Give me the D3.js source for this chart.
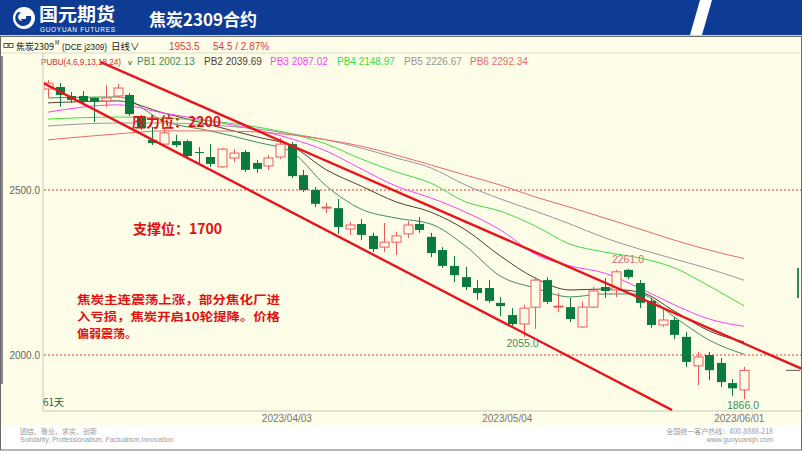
<!DOCTYPE html>
<html><head><meta charset="utf-8">
<script src="https://cdn.jsdelivr.net/npm/d3@7"></script>
<style>body{margin:0;background:#fff;} svg{display:block;}</style>
</head><body>
<svg id="c" width="802" height="451"></svg>
<script>
// ---- data ----
const opens  = [2806,2812,2785,2785,2779,2770,2785,2788,2721,2652, 2639,2648,2648,2615,2600,2570,2597,2615,2582,2573, 2600,2639,2545,2500,2446,2445,2382,2397,2361,2327, 2342,2367,2397,2358,2318,2270,2236,2203,2203,2158, 2121,2094,2145,2227,2147,2145,2085,2145,2206,2197, 2258,2218,2164,2091,2106,2055,1967,2000,1976,1915,1894];
const highs  = [2833,2824,2797,2800,2782,2818,2821,2794,2727,2691, 2688,2667,2652,2630,2639,2627,2624,2621,2591,2606, 2658,2645,2561,2509,2461,2473,2403,2412,2370,2400, 2373,2406,2418,2370,2327,2300,2267,2227,2227,2176, 2142,2152,2236,2236,2188,2173,2161,2206,2233,2258, 2261,2227,2173,2142,2115,2070,2009,2009,1991,1927,1964];
const lows   = [2782,2752,2764,2758,2706,2752,2779,2724,2682,2636, 2633,2630,2597,2582,2570,2567,2585,2555,2552,2561, 2594,2536,2494,2448,2430,2367,2364,2348,2312,2312, 2303,2355,2370,2297,2264,2221,2197,2167,2158,2118, 2088,2055,2079,2155,2130,2100,2082,2142,2173,2176, 2230,2142,2082,2085,2048,1964,1909,1924,1903,1876,1866];
const closes = [2824,2788,2773,2767,2767,2779,2809,2730,2688,2642, 2673,2636,2603,2612,2579,2624,2612,2561,2564,2597, 2639,2542,2500,2458,2448,2388,2394,2364,2321,2342, 2361,2394,2379,2309,2270,2242,2206,2188,2164,2148, 2094,2142,2227,2161,2148,2109,2145,2194,2194,2252, 2236,2158,2091,2106,2061,1979,1994,1954,1918,1899,1953.5];

const maIndex = [0,6,10,14,18,21,24,27,30,33,36,39,42,45,48,51,54,57,60];
const pb1 = [2779,2782,2709,2679,2645,2615,2512,2442,2415,2397,2330,2239,2203,2176,2185,2185,2115,2045,2002.13];
const pb2 = [2764,2770,2733,2697,2661,2633,2561,2512,2464,2433,2379,2300,2233,2197,2200,2191,2133,2073,2039.69];
const pb3 = [2736,2758,2733,2709,2682,2655,2618,2564,2512,2476,2433,2379,2306,2270,2248,2203,2152,2109,2087.02];
const pb4 = [2715,2721,2718,2709,2691,2670,2639,2594,2555,2521,2464,2436,2391,2336,2312,2294,2264,2209,2148.97];
const pb5 = [2694,2703,2703,2697,2685,2670,2652,2627,2597,2567,2515,2473,2436,2397,2355,2321,2291,2261,2226.67];
const pb6 = [2652,2670,2679,2679,2676,2667,2652,2633,2606,2576,2545,2515,2479,2448,2415,2382,2348,2318,2292.34];
const maNames = ["PB1","PB2","PB3","PB4","PB5","PB6"];

const yTickValues = [2000, 2500];
const dateTickIndex = [21, 40, 60];
const dateTickLabels = ["2023/04/03","2023/05/04","2023/06/01"];
// channel lines: [index1, price1, index2, price2]
const channelLines = [[4.5, 2888, 65, 1958], [-0.4, 2824, 53.8, 1833]];
const markIndex = [50, 41, 60];
const markValue = [2261, 2055, 1866];

// ---- styles ----
const cream = "#fdfde8";
const upColor = "#ee5a5a", downColor = "#0b7a3e";
const maColors = ["#3f8f5c","#5a3a30","#ff40ff","#40dc40","#989898","#f06868"];

const svg = d3.select("#c");
const W = 802, H = 451;
const plot = {l:43, r:800, t:53, b:411};

const x = d3.scaleLinear().domain([0, 60]).range([48, 744]);
const y = d3.scaleLinear().domain([2000, 2500]).range([355, 190]);

// backgrounds
svg.append("rect").attr("width", W).attr("height", H).attr("fill", "#fff");
svg.append("rect").attr("x",0).attr("y",36).attr("width",W).attr("height",389).attr("fill",cream);

// header
const blue = "#0e3c94";
svg.append("polygon").attr("points","0,0 700,0 690,35 0,35").attr("fill",blue);
svg.append("polygon").attr("points","712,0 802,0 802,35 702,35").attr("fill",blue);
svg.append("rect").attr("x",0).attr("y",35).attr("width",W).attr("height",2).attr("fill","#cfd3da");
// logo
const lg = svg.append("g");
lg.append("circle").attr("cx",24).attr("cy",18).attr("r",11).attr("fill","#fff");
lg.append("path").attr("d","M18,12 A8,8 0 1 0 31,16 L26,16 A4,4 0 1 1 22,13 Z").attr("fill",blue);
lg.append("path").attr("d","M21,19 L27,19 L24,25 Z").attr("fill",blue);
svg.append("text").attr("x",39).attr("y",21).text("国元期货")
  .attr("font-family","Noto Sans CJK SC").attr("font-weight","bold").attr("font-size",18)
  .attr("textLength",76).attr("lengthAdjust","spacingAndGlyphs").attr("fill","#fff");
svg.append("text").attr("x",40).attr("y",31.5).text("GUOYUAN FUTURES")
  .attr("font-family","Liberation Sans").attr("font-size",6.5).attr("textLength",75).attr("fill","#fff");
svg.append("text").attr("x",149).attr("y",26).text("焦炭2309合约")
  .attr("font-family","Noto Sans CJK SC").attr("font-weight","bold").attr("font-size",17).attr("fill","#fff");

// title row
const f10 = "Liberation Sans";
const tr = svg.append("g").attr("font-size",9.5).attr("font-family","Noto Sans CJK SC");
tr.append("rect").attr("x",4).attr("y",43.5).attr("width",4).attr("height",4).attr("fill","none").attr("stroke","#333").attr("stroke-width",0.8);
tr.append("rect").attr("x",9).attr("y",43.5).attr("width",4).attr("height",4).attr("fill","none").attr("stroke","#333").attr("stroke-width",0.8);
tr.append("text").attr("x",16).attr("y",50).attr("fill","#222").attr("textLength",38).attr("lengthAdjust","spacingAndGlyphs").text("焦炭2309");
tr.append("text").attr("x",55).attr("y",45).attr("font-size",5.5).attr("fill","#222").text("M");
tr.append("text").attr("x",62).attr("y",50).attr("fill","#222").attr("font-family",f10).attr("font-size",9)
  .attr("textLength",45).attr("lengthAdjust","spacingAndGlyphs").text("(DCE  j2309)");
tr.append("text").attr("x",111).attr("y",50).attr("fill","#222").text("日线");
tr.append("text").attr("x",130).attr("y",50).attr("fill","#222").text("∨");
tr.append("text").attr("x",169).attr("y",50).attr("fill","#e03a3a").attr("font-family",f10).attr("font-size",10).text("1953.5");
tr.append("text").attr("x",213).attr("y",50).attr("fill","#e03a3a").attr("font-family",f10).attr("font-size",10).text("54.5 / 2.87%");
svg.append("line").attr("x1",0).attr("x2",W).attr("y1",53).attr("y2",53).attr("stroke","#dcdccc");

// legend row
const maSeries = [pb1,pb2,pb3,pb4,pb5,pb6];
const leg = svg.append("g").attr("font-size",10).attr("font-family",f10);
leg.append("text").attr("x",41).attr("y",65).attr("fill","#d23030").attr("font-size",8.6)
  .attr("textLength",80).attr("lengthAdjust","spacingAndGlyphs").text("PUBU(4,6,9,13,18,24)");
leg.append("text").attr("x",128).attr("y",65).attr("fill","#333").attr("font-family",f10).attr("font-size",8).text("v");
const legX = [137,204,270,337,404,470];
maNames.forEach((n,k)=>{
  leg.append("text").attr("x",legX[k]).attr("y",65).attr("fill",maColors[k])
    .text(n + " " + maSeries[k][maSeries[k].length-1].toFixed(2));
});

// axes frame
svg.append("line").attr("x1",plot.l).attr("x2",plot.l).attr("y1",plot.t).attr("y2",plot.b).attr("stroke","#c8c8bc");
svg.append("line").attr("x1",plot.l).attr("x2",802).attr("y1",plot.b).attr("y2",plot.b).attr("stroke","#c8c8bc");
svg.append("rect").attr("x",0).attr("y",56).attr("width",3).attr("height",328).attr("fill","#8a8a8a");

// y ticks + dotted grid
const yAxis = d3.axisLeft(y).tickValues(yTickValues).tickFormat(d3.format(".1f")).tickSize(0).tickPadding(3);
const ya = svg.append("g").attr("transform",`translate(${plot.l},0)`).call(yAxis);
ya.select(".domain").remove();
ya.selectAll("text").attr("font-family",f10).attr("font-size",10).attr("fill","#666");
svg.append("g").selectAll("line").data(yTickValues).join("line")
  .attr("x1",plot.l+1).attr("x2",802).attr("y1",d=>y(d)).attr("y2",d=>y(d))
  .attr("stroke","#e43a3a").attr("stroke-dasharray","2,2").attr("stroke-width",1);

// x date labels
const xa = d3.axisBottom(x).tickValues(dateTickIndex.map(i=>i-0.45))
  .tickFormat((d,k)=>dateTickLabels[k]).tickSize(0).tickPadding(4);
const xg = svg.append("g").attr("transform",`translate(0,${plot.b})`).call(xa);
xg.select(".domain").remove();
xg.selectAll("text").attr("font-family",f10).attr("font-size",10).attr("fill","#777");

// clip
svg.append("clipPath").attr("id","pc").append("rect")
  .attr("x",plot.l+1).attr("y",plot.t+14).attr("width",plot.r-plot.l).attr("height",plot.b-plot.t-14);
svg.append("clipPath").attr("id","pc2").append("rect")
  .attr("x",plot.l+1).attr("y",plot.t).attr("width",802-plot.l).attr("height",plot.b-plot.t);

// MA lines
const mg = svg.append("g").attr("clip-path","url(#pc)");
maSeries.forEach((s,k)=>{
  const pts = maIndex.map((i,j)=>[i, s[j]]);
  mg.append("path").attr("d", d3.line().x(d=>x(d[0])).y(d=>y(d[1])).curve(d3.curveMonotoneX)(pts))
    .attr("fill","none").attr("stroke",maColors[k]).attr("stroke-width",1);
});

// candles
const candles = opens.map((o,i)=>({i, o, h:highs[i], l:lows[i], c:closes[i]}));
const cg = svg.append("g").attr("clip-path","url(#pc)");
const bw = 9;
candles.forEach(d=>{
  const up = d.c >= d.o;
  const col = up ? upColor : downColor;
  const cx = Math.round(x(d.i)) + 0.5;
  const top = y(Math.max(d.o,d.c)), bot = y(Math.min(d.o,d.c));
  const bh = Math.max(1, bot-top);
  if (up) {
    cg.append("line").attr("x1",cx).attr("x2",cx).attr("y1",y(d.h)).attr("y2",top).attr("stroke",col);
    cg.append("line").attr("x1",cx).attr("x2",cx).attr("y1",top+bh).attr("y2",y(d.l)).attr("stroke",col);
    cg.append("rect").attr("x",cx-bw/2).attr("y",top).attr("width",bw).attr("height",bh)
      .attr("fill",cream).attr("stroke",col).attr("stroke-width",1);
  } else {
    cg.append("line").attr("x1",cx).attr("x2",cx).attr("y1",y(d.h)).attr("y2",y(d.l)).attr("stroke",col);
    cg.append("rect").attr("x",cx-bw/2).attr("y",top).attr("width",bw).attr("height",bh).attr("fill",col);
  }
});

// channel lines
const lg2 = svg.append("g").attr("clip-path","url(#pc2)");
channelLines.forEach(c=>{
  lg2.append("line").attr("x1",x(c[0])).attr("y1",y(c[1])).attr("x2",x(c[2])).attr("y2",y(c[3]))
    .attr("stroke","#e8141e").attr("stroke-width",2.4);
});

// last price marker
svg.append("line").attr("x1",786).attr("x2",800).attr("y1",y(closes[60])).attr("y2",y(closes[60])).attr("stroke","#555");
svg.append("rect").attr("x",797).attr("y",268).attr("width",2).attr("height",30).attr("fill","#2e8b50");

// high/low labels
const mcols = ["#e06a6a","#3f8f5c","#3f8f5c"];
const mdy = [-6, 10, 10];
markIndex.forEach((i,k)=>{
  svg.append("text").attr("x",x(i)-(k===0?0:1)).attr("y",y(markValue[k])+mdy[k])
    .attr("text-anchor","middle").attr("font-family",f10).attr("font-size",10.5)
    .attr("fill",mcols[k]).text(markValue[k].toFixed(1));
});

// day count
svg.append("text").attr("x",43).attr("y",406).attr("font-family","Noto Sans CJK SC").attr("font-size",10).attr("fill","#2f5f2f").text("61天");

// annotations
const ann = svg.append("g").attr("font-family","Noto Sans CJK SC").attr("font-weight","bold").attr("fill","#e31010");
ann.append("text").attr("x",132).attr("y",127).attr("font-size",14).text("压力位：2200");
ann.append("text").attr("x",133).attr("y",234).attr("font-size",14).text("支撑位：1700");
const para = ["焦炭主连震荡上涨，部分焦化厂进","入亏损，焦炭开启10轮提降。价格","偏弱震荡。"];
para.forEach((t,k)=>ann.append("text").attr("x",77).attr("y",304+k*17).attr("font-size",11.6)
  .attr("textLength", k<2 ? 203 : 60).attr("lengthAdjust","spacingAndGlyphs").text(t));

// footer
svg.append("rect").attr("x",0).attr("y",425).attr("width",W).attr("height",26).attr("fill","#fff");
const ft = svg.append("g").attr("fill","#9a9a9a").attr("font-size",7);
ft.append("text").attr("x",20).attr("y",434).attr("font-family","Noto Sans CJK SC").text("团结、敬业、求实、创新");
ft.append("text").attr("x",20).attr("y",442).attr("font-family",f10).text("Solidarity, Professionalism, Factualism,Innovation");
ft.append("text").attr("x",773).attr("y",434).attr("text-anchor","end").attr("font-family","Noto Sans CJK SC").text("全国统一客户热线：400-8888-218");
ft.append("text").attr("x",773).attr("y",442).attr("text-anchor","end").attr("font-family",f10).text("www.guoyuanqh.com");
svg.append("rect").attr("x",0.5).attr("y",36.5).attr("width",801).attr("height",413.5).attr("fill","none").attr("stroke","#6a6a6a");
</script>
</body></html>
